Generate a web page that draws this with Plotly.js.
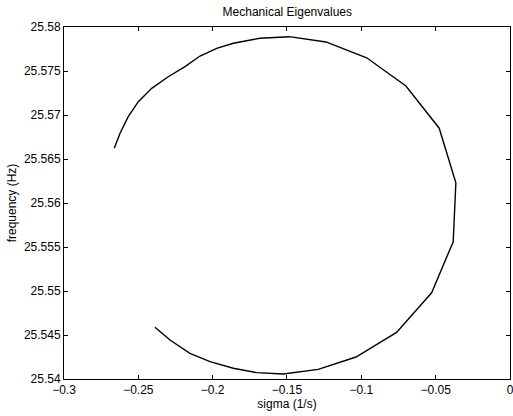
<!DOCTYPE html>
<html>
<head>
<meta charset="utf-8">
<script src="https://cdn.plot.ly/plotly-3.0.1.min.js"></script>
<style>html,body{margin:0;padding:0;background:#fff;}#chart{width:513px;height:416px;}</style>
</head>
<body>
<div id="chart"></div>
<script>
const sigma = [-0.2662, -0.2623, -0.2568, -0.2500, -0.2410, -0.2299, -0.2186, -0.2085, -0.1973, -0.1861, -0.1682, -0.1485, -0.1238, -0.0964, -0.0700, -0.0476, -0.0364, -0.0382, -0.0527, -0.0763, -0.1036, -0.1290, -0.1525, -0.1704, -0.1861, -0.2018, -0.2153, -0.2287, -0.2388];
const freq = [25.56622, 25.56792, 25.56981, 25.57151, 25.57303, 25.57435, 25.57549, 25.57670, 25.57758, 25.57815, 25.57872, 25.5789, 25.5783, 25.5765, 25.5733, 25.5685, 25.5623, 25.5556, 25.5498, 25.5453, 25.5425, 25.5411, 25.54057, 25.54072, 25.54122, 25.54197, 25.54292, 25.54443, 25.54588];
const xTicks = [-0.3, -0.25, -0.2, -0.15, -0.1, -0.05, 0];
const xTickText = ["\u22120.3", "\u22120.25", "\u22120.2", "\u22120.15", "\u22120.1", "\u22120.05", "0"];
const yTicks = [25.54, 25.545, 25.55, 25.555, 25.56, 25.565, 25.57, 25.575, 25.58];
const yTickText = ["25.54", "25.545", "25.55", "25.555", "25.56", "25.565", "25.57", "25.575", "25.58"];

const font = {family: "Liberation Sans, Arial, sans-serif", size: 12, color: "#000"};
const axisCommon = {
  showgrid: false, zeroline: false, showline: true, linecolor: "#000", linewidth: 1,
  mirror: "ticks", ticks: "inside", ticklen: 4, tickcolor: "#000", tickwidth: 1,
  tickfont: font
};
Plotly.newPlot("chart", [{
  x: sigma, y: freq, type: "scatter", mode: "lines",
  line: {color: "#000", width: 1.4}, hoverinfo: "skip"
}], {
  width: 513, height: 416,
  margin: {l: 64, r: 3, t: 27, b: 37},
  paper_bgcolor: "#fff", plot_bgcolor: "#fff",
  showlegend: false,
  title: {text: "Mechanical Eigenvalues", font: font, x: 0.56, xanchor: "center", y: 0.972, yanchor: "middle"},
  xaxis: Object.assign({}, axisCommon, {
    range: [-0.3, 0.00001], tickmode: "array", tickvals: xTicks, ticktext: xTickText,
    ticklabeloverflow: "allow",
    title: {text: "sigma (1/s)", font: font, standoff: 0}
  }),
  yaxis: Object.assign({}, axisCommon, {
    range: [25.54, 25.58], tickmode: "array", tickvals: yTicks, ticktext: yTickText,
    title: {text: "frequency (Hz)", font: font, standoff: 4}
  })
}, {staticPlot: true});
</script>
</body>
</html>
